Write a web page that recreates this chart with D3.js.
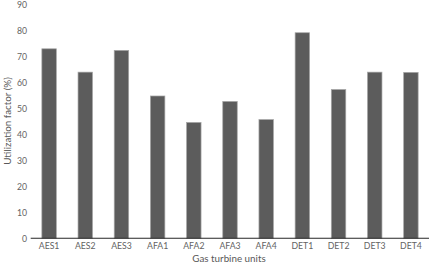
<!DOCTYPE html>
<html><head><meta charset="utf-8">
<script src="https://cdn.jsdelivr.net/npm/d3@7"></script>
<style>body{margin:0;background:#fff}svg{display:block}</style>
</head><body>
<script>
const categories = ["AES1","AES2","AES3","AFA1","AFA2","AFA3","AFA4","DET1","DET2","DET3","DET4"];
const values = [73.1, 64.1, 72.5, 54.9, 44.7, 52.8, 45.8, 79.3, 57.4, 64.1, 64.0];
const yTicks = [0,10,20,30,40,50,60,70,80,90];
const xTitle = "Gas turbine units";
const yTitle = "Utilization factor (%)";

const W = 429, H = 267;
const font = "Lato, 'Open Sans', sans-serif";
const svg = d3.select("body").append("svg").attr("width", W).attr("height", H);

const x = d3.scaleBand().domain(categories).range([31, 429]).paddingInner(0.6).paddingOuter(0.3);
const y = d3.scaleLinear().domain([0, 90]).range([238.3, 5]);

svg.append("g").selectAll("rect").data(values).join("rect")
  .attr("x", (d,i) => x(categories[i]))
  .attr("width", x.bandwidth())
  .attr("y", d => y(d))
  .attr("height", d => y(0) - y(d))
  .attr("fill", "#5c5c5c")
  .attr("stroke", "#a6a6a6")
  .attr("stroke-width", 0.7);

// x axis
const gx = svg.append("g").attr("transform", `translate(0,${y(0)})`)
  .call(d3.axisBottom(x).tickSize(0).tickPadding(5));
gx.select(".domain").attr("stroke", "#262626").attr("stroke-width", 1.1).attr("d", "M30.7,0H429");
gx.selectAll("text").attr("font-family", font).attr("font-size", 8.7).attr("fill", "#636363");

// y axis
const gy = svg.append("g").attr("transform", "translate(27,0)")
  .call(d3.axisLeft(y).tickValues(yTicks).tickSize(0).tickPadding(0));
gy.select(".domain").remove();
gy.selectAll("text").attr("font-family", font).attr("font-size", 8.7).attr("fill", "#636363");

svg.append("text").attr("x", 229).attr("y", 262)
  .attr("text-anchor", "middle").attr("font-family", font).attr("font-size", 9.8).attr("fill", "#595959")
  .text(xTitle);
svg.append("text").attr("transform", "translate(11,121) rotate(-90)")
  .attr("text-anchor", "middle").attr("font-family", font).attr("font-size", 9.8).attr("fill", "#595959")
  .text(yTitle);
</script>
</body></html>
